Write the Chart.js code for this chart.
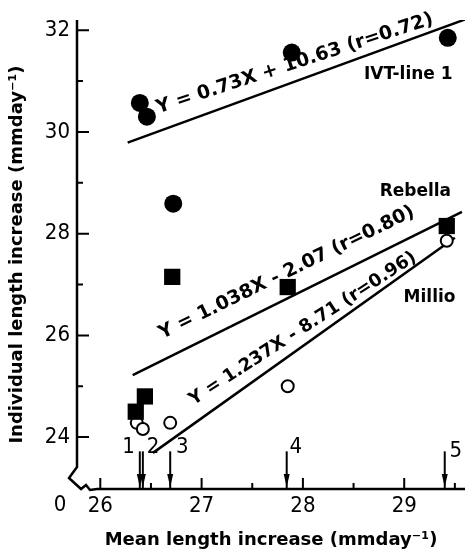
<!DOCTYPE html>
<html><head><meta charset="utf-8">
<script src="https://cdn.jsdelivr.net/npm/chart.js@4/dist/chart.umd.min.js"></script>
<style>html,body{margin:0;padding:0;background:#fff}#wrap{width:465px;height:558px}</style>
</head><body><div id="wrap"><canvas id="c" width="465" height="558"></canvas></div>
<script>
// ---- data ----
const ivtX = [26.39, 26.46, 26.72, 27.89, 29.43];
const ivtY = [30.57, 30.30, 28.59, 31.56, 31.85];
const rebX = [26.35, 26.44, 26.71, 27.85, 29.42];
const rebY = [24.50, 24.80, 27.15, 26.95, 28.15];
const milX = [26.36, 26.42, 26.69, 27.85, 29.42];
const milY = [24.28, 24.16, 24.28, 25.00, 27.86];
// regression line end points
const ivtLineX = [26.27, 29.60];
const ivtLineY = [29.79, 32.21];
const rebLineX = [26.32, 29.57];
const rebLineY = [25.22, 28.43];
const milLineX = [26.52, 29.50];
const milLineY = [23.69, 27.92];
// site arrows (mean length increase)
const siteX = [26.39, 26.42, 26.69, 27.84, 29.40];
const siteLabels = ['1', '2', '3', '4', '5'];
const siteLabelX = [26.28, 26.52, 26.81, 27.93, 29.51];
const siteLabelY = [23.80, 23.80, 23.80, 23.80, 23.72];
const arrowTop = 23.72;
// ticks
const xTicks = [26, 27, 28, 29];
const xMinor = [26.5, 27.5, 28.5, 29.5];
const yTicks = [24, 26, 28, 30, 32];
const yMinor = [25, 27, 29, 31];
// annotation texts
const eqTexts = ['Y = 0.73X + 10.63 (r=0.72)', 'Y = 1.038X - 2.07 (r=0.80)', 'Y = 1.237X - 8.71 (r=0.96)'];
const eqX = [27.92, 27.84, 28.00];
const eqY = [31.34, 27.23, 26.13];
const eqAngle = [18, 26, 33];
const nameTexts = ['IVT-line 1', 'Rebella', 'Millio'];
const nameX = [29.04, 29.11, 29.25];
const nameY = [31.13, 28.82, 26.74];

const EQ_SIZE = [19, 19, 18];
const pts = (xs, ys) => xs.map((v, i) => ({x: v, y: ys[i]}));
Chart.defaults.color = '#000';

const TICKFONT = 'DejaVu Sans Condensed';
const decor = {
  id: 'decor',
  afterDatasetsDraw(chart) {
    const {ctx, chartArea: a, scales: {x, y}} = chart;
    ctx.save();
    ctx.strokeStyle = '#000'; ctx.fillStyle = '#000';
    ctx.lineWidth = 2.5; ctx.lineJoin = 'miter';
    // axes with break
    const yB = a.bottom - 22;
    ctx.beginPath();
    ctx.moveTo(a.left, a.top); ctx.lineTo(a.left, yB);
    ctx.lineTo(a.left - 8, yB + 11); ctx.lineTo(a.left + 4, a.bottom);
    ctx.lineTo(a.left + 9, a.bottom - 4); ctx.lineTo(a.left + 13, a.bottom + 1);
    ctx.lineTo(a.left + 20, a.bottom); ctx.lineTo(a.right, a.bottom);
    ctx.stroke();
    // ticks
    ctx.lineWidth = 2;
    ctx.beginPath();
    yTicks.forEach(v => { const p = y.getPixelForValue(v); ctx.moveTo(a.left, p); ctx.lineTo(a.left + 12, p); });
    yMinor.forEach(v => { const p = y.getPixelForValue(v); ctx.moveTo(a.left, p); ctx.lineTo(a.left + 6, p); });
    xTicks.forEach(v => { const p = x.getPixelForValue(v); ctx.moveTo(p, a.bottom); ctx.lineTo(p, a.bottom - 11); });
    xMinor.forEach(v => { const p = x.getPixelForValue(v); ctx.moveTo(p, a.bottom); ctx.lineTo(p, a.bottom - 6); });
    ctx.stroke();
    // arrows
    siteX.forEach(v => {
      const p = x.getPixelForValue(v), t = y.getPixelForValue(arrowTop);
      ctx.lineWidth = 2;
      ctx.beginPath(); ctx.moveTo(p, t); ctx.lineTo(p, a.bottom); ctx.stroke();
      ctx.beginPath(); ctx.moveTo(p - 3, a.bottom - 15); ctx.lineTo(p + 3, a.bottom - 15); ctx.lineTo(p, a.bottom - 2); ctx.closePath(); ctx.fill();
    });
    // site numbers
    ctx.font = '22px "' + TICKFONT + '"';
    ctx.textAlign = 'center'; ctx.textBaseline = 'middle';
    siteLabels.forEach((s, i) => ctx.fillText(s, x.getPixelForValue(siteLabelX[i]), y.getPixelForValue(siteLabelY[i])));
    // zero at break
    ctx.fillText('0', a.left - 17, a.bottom + 16);
    // equations
    eqTexts.forEach((s, i) => {
      ctx.save();
      ctx.font = 'bold ' + EQ_SIZE[i] + 'px "DejaVu Sans"';
      ctx.translate(x.getPixelForValue(eqX[i]), y.getPixelForValue(eqY[i]));
      ctx.rotate(-eqAngle[i] * Math.PI / 180);
      ctx.fillText(s, 0, 0);
      ctx.restore();
    });
    ctx.font = 'bold 17px "DejaVu Sans"';
    nameTexts.forEach((s, i) => ctx.fillText(s, x.getPixelForValue(nameX[i]), y.getPixelForValue(nameY[i])));
    ctx.restore();
  }
};

const lineDs = (xs, ys) => ({type: 'line', data: pts(xs, ys), borderColor: '#000', borderWidth: 2.5, pointRadius: 0, fill: false, tension: 0});

new Chart(document.getElementById('c'), {
  type: 'scatter',
  data: {
    datasets: [
      {label: 'IVT-line 1', data: pts(ivtX, ivtY), pointStyle: 'circle', pointRadius: 9, backgroundColor: '#000', borderColor: '#000', borderWidth: 0},
      {label: 'Rebella', data: pts(rebX, rebY), pointStyle: 'rect', pointRadius: 11.5, backgroundColor: '#000', borderColor: '#000', borderWidth: 0},
      {label: 'Millio', data: pts(milX, milY), pointStyle: 'circle', pointRadius: 6, backgroundColor: '#fff', borderColor: '#000', borderWidth: 2},
      lineDs(ivtLineX, ivtLineY),
      lineDs(rebLineX, rebLineY),
      lineDs(milLineX, milLineY)
    ]
  },
  options: {
    responsive: false, animation: false, devicePixelRatio: 1,
    layout: {autoPadding: false, padding: {top: 20, right: 0, left: 0, bottom: 0}},
    plugins: {legend: {display: false}, tooltip: {enabled: false}},
    scales: {
      x: {
        type: 'linear', min: 25.77, max: 29.6,
        grid: {display: false, drawTicks: false}, border: {display: false},
        afterBuildTicks: s => { s.ticks = xTicks.map(v => ({value: v})); },
        afterFit: s => { s.height = 69; s.paddingLeft = 0; s.paddingRight = 0; },
        ticks: {font: {family: TICKFONT, size: 22}, padding: 4, color: '#000', callback: v => String(v)},
        title: {display: true, text: 'Mean length increase (mmday⁻¹)', font: {family: 'DejaVu Sans', size: 18, weight: 'bold'}, padding: {top: 0, bottom: 7}, color: '#000'}
      },
      y: {
        type: 'linear', min: 22.98, max: 32.2,
        grid: {display: false, drawTicks: false}, border: {display: false},
        afterBuildTicks: s => { s.ticks = yTicks.map(v => ({value: v})); },
        afterFit: s => { s.width = 77; s.paddingTop = 0; s.paddingBottom = 0; },
        ticks: {font: {family: TICKFONT, size: 22}, padding: 7, color: '#000', callback: v => String(v)},
        title: {display: true, text: 'Individual length increase (mmday⁻¹)', font: {family: 'DejaVu Sans', size: 18, weight: 'bold'}, padding: {top: 7, bottom: 0}, color: '#000'}
      }
    }
  },
  plugins: [decor]
});
</script>
</body></html>
